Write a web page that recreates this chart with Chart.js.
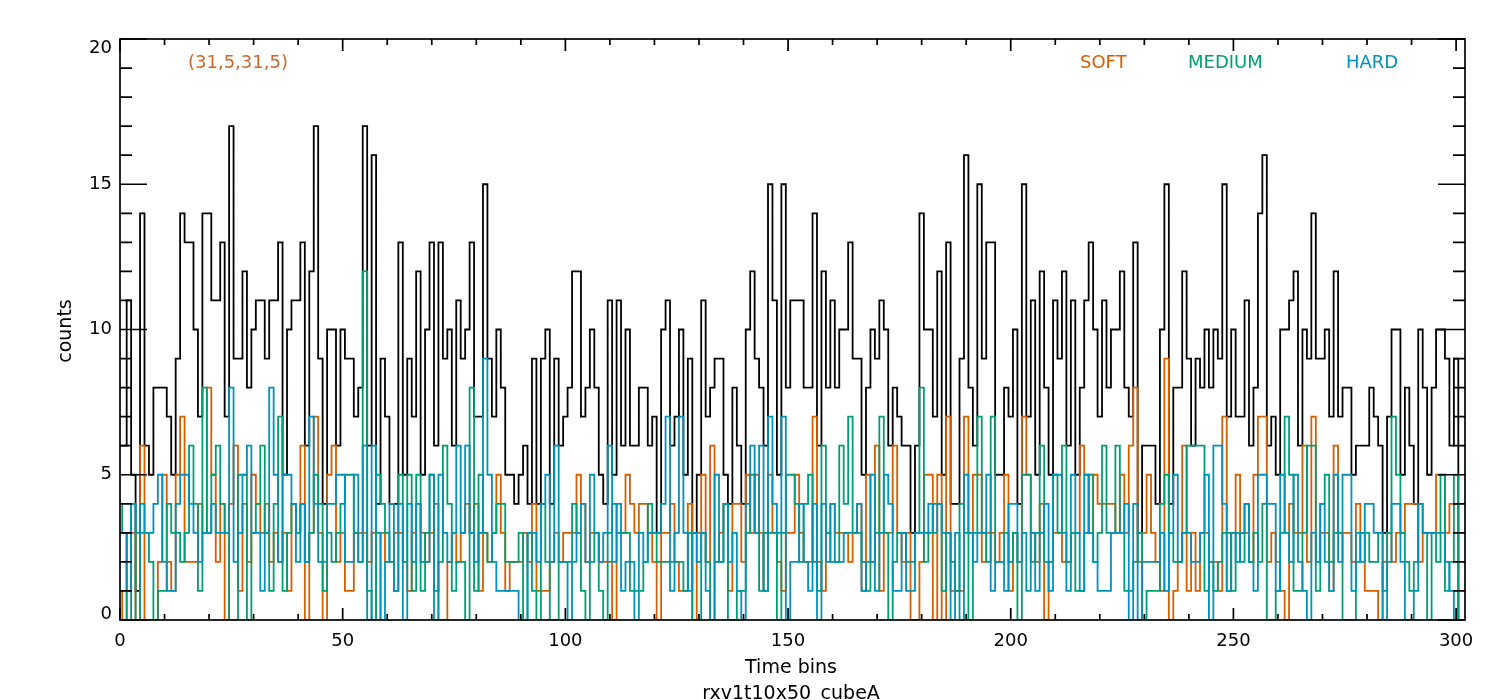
<!DOCTYPE html>
<html>
<head>
<meta charset="utf-8">
<title>rxv1t10x50_cubeA</title>
<script src="https://cdn.jsdelivr.net/npm/chart.js@4.4.1/dist/chart.umd.min.js"></script>
<style>
  html, body { margin: 0; padding: 0; background: #ffffff; }
  canvas { display: block; }
</style>
</head>
<body>
<canvas id="LightCurve" width="1500" height="700"></canvas>
<script>
// counts per time bin (bin 301 is the closing drop to 0)
const total = [
  6, 6, 11, 5, 1, 14, 6, 5, 8, 8,
  8, 7, 5, 9, 14, 13, 13, 10, 7, 14,
  14, 11, 11, 13, 7, 17, 9, 9, 12, 8,
  10, 11, 11, 9, 11, 11, 13, 5, 10, 11,
  11, 13, 6, 12, 17, 9, 4, 10, 10, 6,
  10, 9, 9, 7, 8, 17, 6, 16, 4, 9,
  7, 4, 4, 13, 5, 9, 7, 12, 5, 10,
  13, 6, 13, 9, 10, 6, 11, 9, 10, 13,
  7, 7, 15, 9, 7, 10, 8, 5, 5, 4,
  5, 6, 4, 9, 4, 9, 10, 4, 9, 6,
  7, 8, 12, 12, 7, 8, 10, 8, 5, 4,
  11, 5, 11, 6, 10, 6, 6, 8, 8, 6,
  7, 3, 10, 11, 6, 7, 10, 5, 9, 3,
  5, 11, 7, 8, 9, 9, 5, 4, 8, 6,
  4, 10, 12, 9, 8, 6, 15, 11, 5, 15,
  8, 11, 11, 11, 8, 8, 14, 6, 12, 8,
  11, 8, 10, 10, 13, 9, 9, 5, 8, 10,
  9, 11, 10, 6, 8, 7, 6, 6, 3, 6,
  14, 10, 10, 7, 12, 5, 13, 4, 4, 9,
  16, 8, 6, 15, 9, 13, 13, 5, 5, 8,
  7, 10, 4, 15, 7, 11, 5, 12, 8, 5,
  11, 9, 12, 6, 11, 5, 8, 11, 13, 10,
  7, 11, 8, 10, 10, 12, 8, 7, 13, 3,
  6, 6, 6, 4, 10, 15, 4, 8, 8, 12,
  9, 6, 9, 8, 10, 8, 10, 9, 15, 7,
  10, 7, 7, 11, 6, 8, 14, 16, 6, 7,
  5, 10, 10, 11, 12, 6, 10, 9, 14, 9,
  9, 10, 7, 12, 7, 8, 8, 5, 6, 6,
  6, 8, 7, 6, 3, 7, 10, 10, 5, 8,
  6, 4, 10, 8, 5, 8, 10, 10, 9, 6,
  9, 0
];

const soft = [
  1, 0, 3, 3, 0, 6, 0, 0, 0, 2,
  5, 2, 1, 5, 7, 2, 2, 2, 4, 3,
  8, 5, 2, 4, 0, 4, 6, 1, 4, 2,
  5, 4, 3, 4, 2, 3, 2, 3, 1, 4,
  3, 6, 0, 3, 7, 3, 0, 5, 6, 2,
  3, 1, 1, 3, 3, 3, 2, 3, 0, 3,
  2, 2, 3, 3, 2, 1, 3, 4, 3, 2,
  3, 4, 0, 0, 2, 3, 2, 3, 4, 3,
  4, 1, 3, 2, 3, 5, 3, 1, 2, 2,
  2, 3, 2, 4, 1, 1, 1, 2, 3, 2,
  3, 3, 3, 5, 4, 2, 3, 3, 2, 2,
  2, 0, 3, 3, 5, 4, 3, 4, 4, 3,
  2, 0, 3, 3, 4, 2, 1, 1, 4, 0,
  3, 5, 2, 6, 2, 3, 4, 1, 4, 4,
  2, 5, 3, 5, 3, 1, 5, 3, 2, 1,
  3, 3, 5, 3, 2, 2, 7, 2, 1, 3,
  4, 3, 3, 3, 2, 3, 4, 1, 5, 2,
  6, 1, 3, 3, 6, 3, 2, 3, 0, 0,
  2, 5, 5, 0, 5, 0, 7, 1, 1, 1,
  7, 3, 5, 5, 2, 3, 3, 2, 3, 5,
  1, 3, 2, 7, 5, 3, 2, 4, 0, 2,
  3, 3, 2, 2, 3, 3, 6, 5, 3, 5,
  4, 4, 4, 4, 3, 5, 3, 6, 8, 2,
  3, 5, 3, 2, 1, 9, 0, 1, 2, 6,
  1, 3, 1, 3, 3, 2, 2, 1, 7, 1,
  3, 5, 3, 3, 2, 5, 7, 7, 2, 3,
  2, 1, 0, 4, 3, 3, 6, 2, 7, 2,
  3, 3, 1, 6, 3, 3, 3, 2, 4, 3,
  1, 1, 1, 0, 2, 3, 2, 3, 3, 4,
  4, 4, 2, 3, 3, 3, 5, 5, 3, 4,
  4, 0
];

const medium = [
  4, 3, 0, 4, 0, 3, 3, 2, 0, 1,
  1, 4, 3, 3, 2, 3, 6, 4, 1, 8,
  3, 5, 6, 4, 3, 0, 0, 5, 5, 0,
  3, 4, 6, 3, 1, 4, 7, 1, 3, 4,
  3, 4, 2, 3, 5, 4, 1, 3, 2, 3,
  4, 5, 5, 3, 2, 12, 1, 0, 5, 4,
  3, 2, 1, 5, 2, 5, 1, 5, 1, 3,
  5, 1, 2, 6, 4, 1, 2, 2, 0, 8,
  1, 5, 3, 2, 3, 4, 4, 2, 2, 2,
  3, 0, 3, 1, 0, 4, 2, 0, 0, 2,
  2, 2, 4, 3, 1, 0, 2, 3, 1, 0,
  3, 4, 3, 3, 3, 1, 1, 1, 2, 4,
  3, 2, 2, 2, 2, 2, 2, 1, 3, 0,
  0, 3, 2, 0, 2, 2, 4, 0, 0, 1,
  1, 3, 5, 3, 1, 3, 3, 3, 0, 3,
  5, 5, 4, 2, 4, 5, 2, 1, 6, 3,
  2, 2, 6, 4, 7, 3, 3, 2, 1, 2,
  3, 7, 3, 0, 2, 3, 3, 2, 2, 3,
  8, 2, 3, 4, 4, 1, 3, 2, 1, 4,
  3, 0, 3, 7, 3, 2, 7, 2, 2, 3,
  2, 3, 0, 5, 5, 2, 3, 6, 2, 2,
  5, 3, 6, 2, 3, 1, 1, 3, 5, 2,
  3, 6, 3, 3, 6, 3, 1, 1, 2, 3,
  0, 1, 1, 1, 4, 5, 3, 2, 2, 3,
  6, 6, 6, 6, 1, 2, 1, 2, 3, 3,
  1, 3, 2, 4, 2, 3, 2, 4, 0, 0,
  1, 3, 7, 5, 1, 1, 3, 6, 6, 1,
  4, 5, 2, 3, 3, 0, 0, 0, 2, 3,
  3, 2, 2, 3, 1, 3, 7, 5, 3, 2,
  1, 2, 4, 3, 0, 3, 2, 5, 1, 2,
  5, 0
];

const hard = [
  3, 3, 1, 4, 3, 4, 3, 3, 4, 5,
  2, 1, 1, 4, 5, 5, 4, 3, 2, 3,
  3, 4, 3, 3, 3, 8, 2, 3, 5, 6,
  3, 3, 1, 3, 8, 5, 2, 5, 5, 4,
  2, 4, 2, 7, 4, 2, 2, 4, 4, 5,
  5, 2, 2, 5, 2, 6, 0, 6, 3, 0,
  2, 4, 1, 4, 0, 4, 2, 4, 2, 2,
  5, 0, 5, 3, 2, 3, 6, 3, 6, 3,
  2, 3, 9, 5, 2, 1, 1, 1, 1, 1,
  0, 0, 3, 3, 2, 4, 5, 2, 6, 2,
  2, 0, 2, 3, 4, 2, 5, 3, 2, 3,
  6, 2, 4, 1, 2, 2, 0, 3, 2, 3,
  3, 3, 4, 7, 1, 3, 7, 3, 1, 3,
  2, 3, 1, 0, 5, 2, 4, 2, 3, 1,
  0, 4, 6, 3, 6, 1, 7, 4, 3, 7,
  0, 2, 2, 4, 2, 1, 4, 0, 4, 2,
  4, 2, 2, 3, 3, 3, 4, 1, 2, 5,
  1, 3, 5, 4, 1, 1, 3, 1, 1, 3,
  3, 3, 4, 3, 4, 3, 3, 0, 3, 0,
  5, 3, 2, 3, 3, 5, 1, 2, 2, 1,
  4, 4, 2, 3, 1, 3, 1, 3, 4, 1,
  5, 5, 3, 1, 5, 3, 1, 5, 3, 2,
  1, 1, 1, 3, 3, 3, 4, 0, 4, 0,
  2, 2, 2, 2, 3, 1, 3, 5, 2, 3,
  3, 2, 2, 3, 5, 0, 6, 6, 4, 1,
  3, 2, 3, 4, 2, 1, 5, 5, 4, 4,
  1, 5, 3, 2, 5, 2, 1, 0, 3, 2,
  4, 2, 1, 5, 2, 5, 5, 1, 3, 2,
  4, 4, 3, 3, 0, 2, 4, 4, 2, 0,
  0, 1, 4, 3, 3, 3, 3, 3, 2, 1,
  0, 0
];

const xTickLabels = ["0", "50", "100", "150", "200", "250", "300"];
const yTickLabels = ["0", "5", "10", "15", "20"];
const legendNames = ["SOFT", "MEDIUM", "HARD"];
const titleText = "(31,5,31,5)";

const SOFT_COLOR = "#d55e00";
const MEDIUM_COLOR = "#009e73";
const HARD_COLOR = "#0092bc";
const FONT = "DejaVu Sans";

function toPoints(values) {
  return values.map(function (v, i) {
    return { x: i, y: v };
  });
}

function stepLine(label, values, color, order) {
  return {
    label: label,
    data: toPoints(values),
    borderColor: color,
    borderWidth: 1.8,
    stepped: "middle",
    pointRadius: 0,
    fill: false,
    order: order,
  };
}

// IDL-style box: inward ticks on all four sides, labels and annotations
const idlFrame = {
  id: "idlFrame",
  afterDraw: function (chart) {
    const ctx = chart.ctx;
    const a = chart.chartArea;
    const xs = chart.scales.x;
    const ys = chart.scales.y;

    ctx.save();
    ctx.strokeStyle = "#000000";
    ctx.lineWidth = 1.7;
    ctx.strokeRect(a.left, a.top, a.right - a.left, a.bottom - a.top);

    ctx.beginPath();
    for (let v = 0; v <= 300; v += 10) {
      const px = xs.getPixelForValue(v);
      const len = v % 50 === 0 ? 12 : 6;
      ctx.moveTo(px, a.bottom);
      ctx.lineTo(px, a.bottom - len);
      ctx.moveTo(px, a.top);
      ctx.lineTo(px, a.top + len);
    }
    for (let v = 0; v <= 20; v += 1) {
      const py = ys.getPixelForValue(v);
      const len = v % 5 === 0 ? 27 : 12;
      ctx.moveTo(a.left, py);
      ctx.lineTo(a.left + len, py);
      ctx.moveTo(a.right, py);
      ctx.lineTo(a.right - len, py);
    }
    ctx.stroke();

    ctx.fillStyle = "#000000";
    ctx.font = "18px '" + FONT + "'";
    ctx.textAlign = "center";
    ctx.textBaseline = "middle";
    xTickLabels.forEach(function (t) {
      ctx.fillText(t, xs.getPixelForValue(Number(t)), a.bottom + 21);
    });

    ctx.textAlign = "right";
    yTickLabels.forEach(function (t) {
      let py = ys.getPixelForValue(Number(t));
      py = Math.min(Math.max(py, a.top + 9), a.bottom - 6);
      ctx.fillText(t, a.left - 8, py);
    });

    ctx.font = "19px '" + FONT + "'";
    ctx.textAlign = "center";
    ctx.fillText("Time bins", 791, 668);
    ctx.fillText("rxv1t10x50_cubeA", 791, 694);

    ctx.save();
    ctx.translate(66, 331);
    ctx.rotate(-Math.PI / 2);
    ctx.fillText("counts", 0, 0);
    ctx.restore();

    ctx.font = "18px '" + FONT + "'";
    ctx.textAlign = "left";
    ctx.textBaseline = "alphabetic";
    ctx.fillStyle = "#c8682c";
    ctx.fillText(titleText, 188, 68);

    const legendColors = [SOFT_COLOR, MEDIUM_COLOR, HARD_COLOR];
    const legendX = [1080, 1188, 1346];
    legendNames.forEach(function (name, i) {
      ctx.fillStyle = legendColors[i];
      ctx.fillText(name, legendX[i], 68);
    });
    ctx.restore();
  },
};

const ctx = document.getElementById("LightCurve");

new Chart(ctx, {
  type: "line",
  data: {
    datasets: [
      stepLine("HARD", hard, HARD_COLOR, 1),
      stepLine("MEDIUM", medium, MEDIUM_COLOR, 2),
      stepLine("SOFT", soft, SOFT_COLOR, 3),
      stepLine("TOTAL", total, "#000000", 4),
    ],
  },
  options: {
    responsive: false,
    animation: false,
    devicePixelRatio: 1,
    layout: {
      padding: { left: 120, right: 35, top: 39, bottom: 80 },
    },
    plugins: {
      legend: { display: false },
      tooltip: { enabled: false },
    },
    scales: {
      x: { type: "linear", min: 0, max: 302, display: false },
      y: { type: "linear", min: 0, max: 20, display: false },
    },
  },
  plugins: [idlFrame],
});
</script>
</body>
</html>
